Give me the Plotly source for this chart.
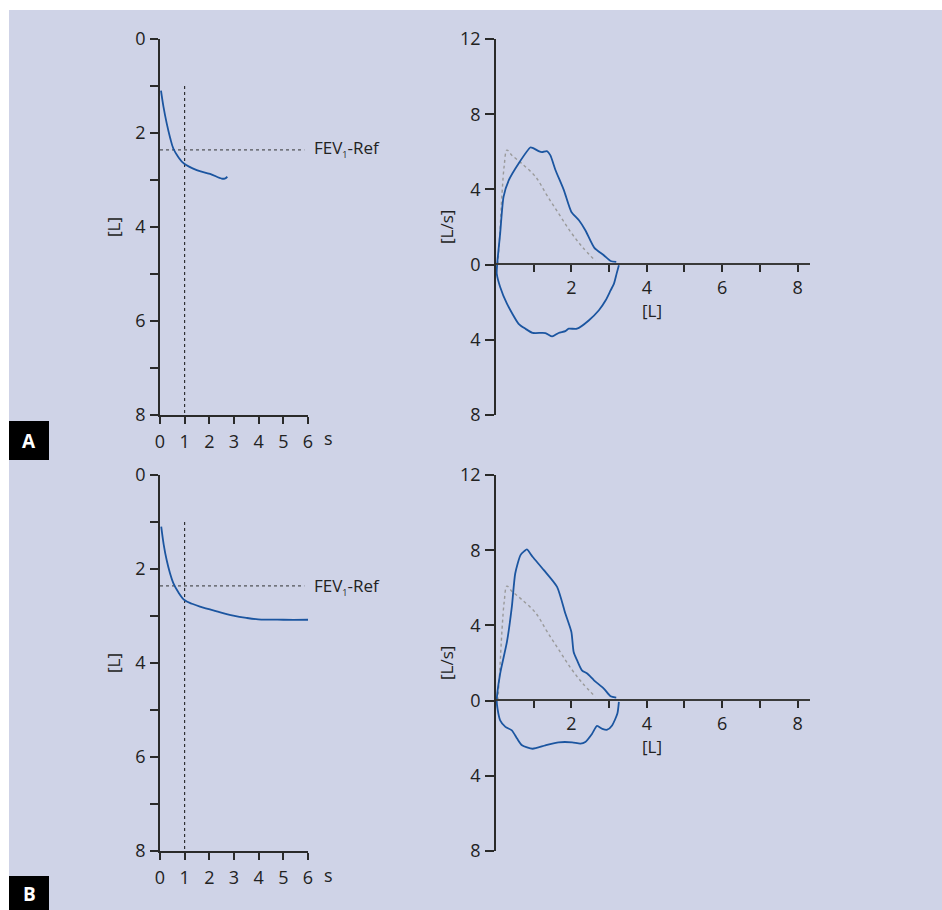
import plotly.graph_objects as go

W, H = 942, 910
OX, OY = 0, 0

# ---------------- data ----------------
# Spirogram (volume [L] vs time [s])
spiro_A_t = [0.04, 0.14, 0.27, 0.41, 0.54, 0.74, 0.97, 1.49, 2.03, 2.50, 2.62, 2.73]
spiro_A_v = [1.10, 1.44, 1.79, 2.10, 2.33, 2.51, 2.65, 2.79, 2.87, 2.97, 2.97, 2.93]

spiro_B_t = [0.05, 0.15, 0.27, 0.40, 0.54, 0.75, 0.99, 1.30, 1.62, 2.30, 2.97, 3.50, 3.98, 5.00, 6.00]
spiro_B_v = [1.10, 1.48, 1.81, 2.08, 2.30, 2.50, 2.66, 2.74, 2.80, 2.90, 2.99, 3.04, 3.07, 3.08, 3.08]

fev1_time = 1.0
fev1_ref = 2.36
fev1_line_top = 1.0
ref_line_end = 5.85

# Flow-volume loops (flow [L/s] vs volume [L]); inspiration negative
fv_A_vol = [3.26, 3.20, 3.13, 3.04, 2.91, 2.73, 2.46, 2.15, 1.93, 1.84, 1.66, 1.49, 1.31,
            0.97, 0.78, 0.60, 0.29, 0.11, 0.02, 0.03,
            0.11, 0.20, 0.34, 0.60, 0.91, 0.97, 1.13, 1.22, 1.35, 1.44, 1.58, 1.80, 2.00,
            2.20, 2.37, 2.61, 2.86, 3.04, 3.19]
fv_A_flow = [-0.04, -0.48, -1.01, -1.37, -1.90, -2.43, -2.97, -3.41, -3.41, -3.54, -3.64, -3.82, -3.64,
             -3.63, -3.41, -3.15, -2.08, -1.19, -0.48, 0.00,
             1.65, 3.60, 4.49, 5.38, 6.23, 6.21, 6.04, 5.98, 6.04, 5.82, 5.02, 3.96, 2.80,
             2.36, 1.83, 0.89, 0.50, 0.19, 0.14]

fv_B_vol = [3.26, 3.22, 3.08, 2.95, 2.82, 2.68, 2.55, 2.37, 2.24, 2.02, 1.66, 1.31, 0.97,
            0.69, 0.56, 0.42, 0.25, 0.11, 0.04, 0.02,
            0.11, 0.29, 0.42, 0.51, 0.65, 0.75, 0.82, 0.97, 1.27, 1.62, 1.84, 2.00, 2.06,
            2.15, 2.28, 2.42, 2.60, 2.86, 3.04, 3.19]
fv_B_flow = [-0.07, -0.69, -1.32, -1.55, -1.50, -1.35, -1.76, -2.20, -2.29, -2.22, -2.22, -2.38, -2.56,
             -2.38, -2.02, -1.58, -1.40, -1.05, -0.43, 0.00,
             1.44, 3.12, 4.98, 6.76, 7.74, 7.95, 8.04, 7.65, 6.94, 6.05, 4.63, 3.65, 2.59,
             2.15, 1.61, 1.44, 1.08, 0.64, 0.23, 0.16]

# Predicted (reference) flow-volume curve
pred_vol = [0.05, 0.10, 0.16, 0.22, 0.29, 0.42, 0.68, 1.05, 1.35, 1.66, 1.98, 2.29, 2.64]
pred_flow = [0.00, 1.60, 3.78, 5.30, 6.09, 5.82, 5.38, 4.67, 3.69, 2.72, 1.74, 0.94, 0.19]

spiro_yticks = [0, 1, 2, 3, 4, 5, 6, 7, 8]
spiro_yticktext = ["0", "", "2", "", "4", "", "6", "", "8"]
spiro_xticks = [0, 1, 2, 3, 4, 5, 6]
fv_yticks = [-8, -4, 0, 4, 8, 12]
fv_yticktext = ["8", "4", "0", "4", "8", "12"]
fv_xticks = [1, 2, 3, 4, 5, 6, 7, 8]
fv_xticktext = ["", "2", "", "4", "", "6", "", "8"]

# ---------------- styling ----------------
BLUE = "#1b55a0"
BG = "#cfd3e7"
AX = "#2a2a2a"
FONT = "Open Sans"
FS = 18

def px_x(p):
    return (p - OX) / W

def px_y(p):
    return 1 - (p - OY) / H

fig = go.Figure()

def add_spiro(t, v, xa, ya):
    fig.add_trace(go.Scatter(x=[fev1_time, fev1_time], y=[fev1_line_top, 8], mode="lines",
                             line=dict(color="#111", width=1, dash="dot"), xaxis=xa, yaxis=ya,
                             showlegend=False, hoverinfo="skip"))
    fig.add_trace(go.Scatter(x=[0, ref_line_end], y=[fev1_ref, fev1_ref], mode="lines",
                             line=dict(color="#333", width=1, dash="dot"), xaxis=xa, yaxis=ya,
                             showlegend=False, hoverinfo="skip"))
    fig.add_trace(go.Scatter(x=t, y=v, mode="lines", line=dict(color=BLUE, width=1.8, shape="spline"),
                             xaxis=xa, yaxis=ya, showlegend=False))

def add_fv(vol, flow, xa, ya):
    fig.add_trace(go.Scatter(x=pred_vol, y=pred_flow, mode="lines",
                             line=dict(color="#9a9a9a", width=1.4, dash="dot", shape="spline"),
                             xaxis=xa, yaxis=ya, showlegend=False))
    fig.add_trace(go.Scatter(x=vol, y=flow, mode="lines",
                             line=dict(color=BLUE, width=1.8, shape="spline", smoothing=0.6),
                             xaxis=xa, yaxis=ya, showlegend=False))

add_spiro(spiro_A_t, spiro_A_v, "x", "y")
add_fv(fv_A_vol, fv_A_flow, "x2", "y2")
add_spiro(spiro_B_t, spiro_B_v, "x3", "y3")
add_fv(fv_B_vol, fv_B_flow, "x4", "y4")

tickfont = dict(family=FONT, size=FS, color="#222")

def spiro_axes(top, bottom, xn, yn):
    xd = [px_x(160), px_x(308)]
    yd = [px_y(bottom), px_y(top)]
    xa = dict(domain=xd, range=[0, 6], tickvals=spiro_xticks, ticks="outside", ticklen=7,
              tickwidth=1.6, tickcolor=AX, showline=True, linecolor=AX, linewidth=1.8,
              showgrid=False, zeroline=False, tickfont=tickfont, anchor=yn, ticklabelstandoff=2,
              automargin=False)
    ya = dict(domain=yd, range=[8, 0], tickvals=spiro_yticks, ticktext=spiro_yticktext,
              ticks="outside", ticklen=8, tickwidth=1.6, tickcolor=AX, showline=True,
              linecolor=AX, linewidth=1.8, showgrid=False, zeroline=False, tickfont=tickfont,
              anchor=xn, ticklabelstandoff=1, automargin=False)
    return xa, ya

def fv_axes(top, bottom, zero_px, xn):
    xd = [px_x(496), px_x(810)]
    yd = [px_y(bottom), px_y(top)]
    xa = dict(domain=xd, range=[0, 8.33], tickvals=fv_xticks, ticktext=fv_xticktext,
              ticks="outside", ticklen=7, tickwidth=1.6, tickcolor=AX, showline=True,
              linecolor="#3a3a3a", linewidth=2, showgrid=False, zeroline=False,
              tickfont=tickfont, anchor="free", position=px_y(zero_px), ticklabelstandoff=0,
              automargin=False)
    ya = dict(domain=yd, range=[-8, 12], tickvals=fv_yticks, ticktext=fv_yticktext,
              ticks="outside", ticklen=9, tickwidth=1.6, tickcolor=AX, showline=True,
              linecolor=AX, linewidth=1.8, showgrid=False, zeroline=False, tickfont=tickfont,
              ticklabelstandoff=1, anchor=xn, automargin=False)
    return xa, ya

x1, y1 = spiro_axes(39, 415, "x", "y")
x2, y2 = fv_axes(39, 415, 264.3, "x2")
x3, y3 = spiro_axes(475, 851, "x3", "y3")
x4, y4 = fv_axes(475, 851, 700.3, "x4")

fig.update_layout(
    width=W, height=H, margin=dict(l=0, r=0, t=0, b=0, pad=0, autoexpand=False),
    paper_bgcolor="white", plot_bgcolor="white",
    xaxis=x1, yaxis=y1, xaxis2=x2, yaxis2=y2, xaxis3=x3, yaxis3=y3, xaxis4=x4, yaxis4=y4,
    font=dict(family=FONT, size=FS, color="#222"),
)

shapes = [
    dict(type="rect", xref="paper", yref="paper", x0=px_x(9), x1=1.0, y0=0.0, y1=px_y(10),
         fillcolor=BG, line=dict(width=0), layer="below"),
    dict(type="rect", xref="paper", yref="paper", x0=px_x(9), x1=px_x(49), y0=px_y(460), y1=px_y(421),
         fillcolor="black", line=dict(width=0)),
    dict(type="rect", xref="paper", yref="paper", x0=px_x(9), x1=px_x(49), y0=0.0, y1=px_y(876),
         fillcolor="black", line=dict(width=0)),
]
fig.update_layout(shapes=shapes)

ann = []
def text(x, y, s, xanchor="center", angle=0, size=FS, color="#222", bold=False):
    ann.append(dict(x=px_x(x), y=px_y(y), xref="paper", yref="paper", text=("<b>%s</b>" % s) if bold else s,
                    showarrow=False, xanchor=xanchor, yanchor="middle", textangle=angle,
                    font=dict(family=FONT, size=size, color=color)))

for (top, ref_y, s_y, blabel, by) in [(39, 149, 438, "A", 441), (475, 586, 875, "B", 894)]:
    text(113, top + 188, "[L]", angle=-90, size=17)
    text(312, ref_y, "FEV<sub><span style='font-size:9px'>1</span></sub>-Ref", xanchor="left", size=17)
    text(328, s_y, "s")
    text(446, top + 188, "[L/s]", angle=-90, size=17)
    text(29, by, blabel, size=19, color="white", bold=True)

text(652, 310, "[L]", size=17)
text(652, 746, "[L]", size=17)
fig.update_layout(annotations=ann)

fig.write_html(
    "out.html",
    config={"displayModeBar": False},
    post_script="document.documentElement.style.margin='0';document.documentElement.style.overflow='hidden';"
                "document.body.style.margin='0';document.body.style.padding='0';document.body.style.overflow='hidden';",
)
